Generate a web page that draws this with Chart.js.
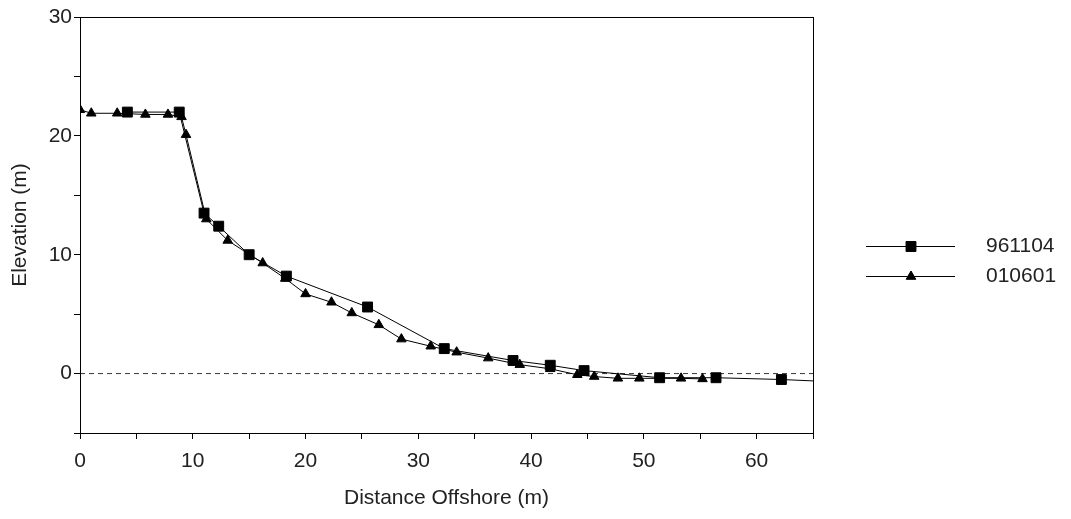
<!DOCTYPE html>
<html>
<head>
<meta charset="utf-8">
<script src="https://cdn.jsdelivr.net/npm/chart.js@4/dist/chart.umd.min.js"></script>
<style>
  html, body { margin: 0; padding: 0; background: #fff; }
  #wrap { width: 1071px; height: 519px; }
</style>
</head>
<body>
<div id="wrap"><canvas id="c" width="1071" height="519"></canvas></div>
<script>
// survey 961104 (squares)
const x961104 = [4.2, 8.8, 11.0, 12.3, 15.0, 18.3, 25.5, 32.3, 38.4, 41.7, 44.7, 51.4, 56.4, 62.2, 67.0];
const y961104 = [22.0, 22.0, 13.5, 12.4, 10.0, 8.2, 5.6, 2.1, 1.1, 0.7, 0.25, -0.35, -0.35, -0.5, -0.7];

// survey 010601 (triangles)
const x010601 = [0, 1.0, 3.3, 5.8, 7.8, 9.0, 9.4, 11.2, 13.1, 16.2, 18.2, 20.0, 22.3, 24.1, 26.5, 28.5, 31.1, 33.4, 36.2, 39.0, 41.7, 44.1, 45.6, 47.7, 49.6, 53.3, 55.2];
const y010601 = [22.2, 21.9, 21.9, 21.8, 21.8, 21.6, 20.1, 13.0, 11.2, 9.3, 8.0, 6.7, 6.0, 5.1, 4.1, 2.9, 2.3, 1.8, 1.3, 0.75, 0.4, -0.1, -0.25, -0.4, -0.4, -0.4, -0.45];

const seriesNames = ['961104', '010601'];
const xTicksLabelled = [0, 10, 20, 30, 40, 50, 60];
const yTicksLabelled = [0, 10, 20, 30];

const toPts = (xs, ys) => xs.map((x, i) => ({ x: x, y: ys[i] }));

const fontFamily = '"Liberation Sans", Arial, sans-serif';
const font = { family: fontFamily, size: 21 };

// draws the box round the plot and a line+marker legend on the right
const frameAndLegend = {
  id: 'frameAndLegend',
  afterDraw(chart) {
    const ctx = chart.ctx;
    const a = chart.chartArea;
    ctx.save();
    ctx.strokeStyle = '#000';
    ctx.lineWidth = 1;
    ctx.strokeRect(Math.round(a.left) + 0.5, Math.round(a.top) + 0.5,
      Math.round(a.right - a.left), Math.round(a.bottom - a.top));

    const rows = [246, 276];
    seriesNames.forEach((name, i) => {
      const ds = chart.data.datasets[i];
      const y = rows[i] + 0.5;
      ctx.beginPath();
      ctx.moveTo(866, y);
      ctx.lineTo(955, y);
      ctx.strokeStyle = '#000';
      ctx.lineWidth = 1;
      ctx.stroke();
      Chart.helpers.drawPoint(ctx, {
        pointStyle: ds.pointStyle,
        radius: ds.pointRadius,
        borderWidth: 1
      }, 911, y);
      ctx.fillStyle = '#000';
      ctx.fill();
      ctx.fillStyle = '#222';
      ctx.font = '21px ' + fontFamily;
      ctx.textBaseline = 'middle';
      ctx.fillText(name, 986, y);
    });
    ctx.restore();
  }
};

new Chart(document.getElementById('c'), {
  type: 'line',
  data: {
    datasets: [
      {
        label: seriesNames[0],
        data: toPts(x961104, y961104),
        borderColor: '#000',
        backgroundColor: '#000',
        borderWidth: 1,
        pointStyle: 'rect',
        pointRadius: 7,
        pointHoverRadius: 7,
        pointBackgroundColor: '#000',
        pointBorderColor: '#000',
        tension: 0
      },
      {
        label: seriesNames[1],
        data: toPts(x010601, y010601),
        borderColor: '#000',
        backgroundColor: '#000',
        borderWidth: 1,
        pointStyle: 'triangle',
        pointRadius: 5.5,
        pointHoverRadius: 5.5,
        pointBackgroundColor: '#000',
        pointBorderColor: '#000',
        tension: 0
      },
      {
        // zero reference line
        label: 'zero',
        data: [{ x: 0, y: 0 }, { x: 65, y: 0 }],
        borderColor: '#333366',
        borderWidth: 1,
        borderDash: [5, 4],
        pointRadius: 0,
        order: 5
      }
    ]
  },
  options: {
    responsive: false,
    animation: false,
    layout: { padding: { top: 17, right: 258, left: 0, bottom: 0 } },
    plugins: {
      legend: { display: false },
      tooltip: { enabled: false }
    },
    scales: {
      x: {
        type: 'linear',
        min: 0,
        max: 65,
        afterFit(s) { s.height = 86; },
        ticks: {
          stepSize: 5,
          autoSkip: false,
          maxRotation: 0,
          padding: 10,
          color: '#222',
          font: font,
          callback: v => xTicksLabelled.includes(v) ? String(v) : ''
        },
        grid: { drawOnChartArea: false, tickLength: 6, color: '#000' },
        border: { color: '#000', width: 1 },
        title: {
          display: true,
          text: 'Distance Offshore (m)',
          color: '#222',
          font: font,
          padding: { top: 0, bottom: 8 }
        }
      },
      y: {
        type: 'linear',
        min: -5,
        max: 30,
        afterFit(s) { s.width = 80; },
        ticks: {
          stepSize: 5,
          autoSkip: false,
          padding: 2,
          color: '#222',
          font: font,
          callback: v => yTicksLabelled.includes(v) ? String(v) : ''
        },
        grid: { drawOnChartArea: false, tickLength: 6, color: '#000' },
        border: { color: '#000', width: 1 },
        title: {
          display: true,
          text: 'Elevation (m)',
          color: '#222',
          font: font,
          padding: { top: 8, bottom: 0 }
        }
      }
    }
  },
  plugins: [frameAndLegend]
});
</script>
</body>
</html>
